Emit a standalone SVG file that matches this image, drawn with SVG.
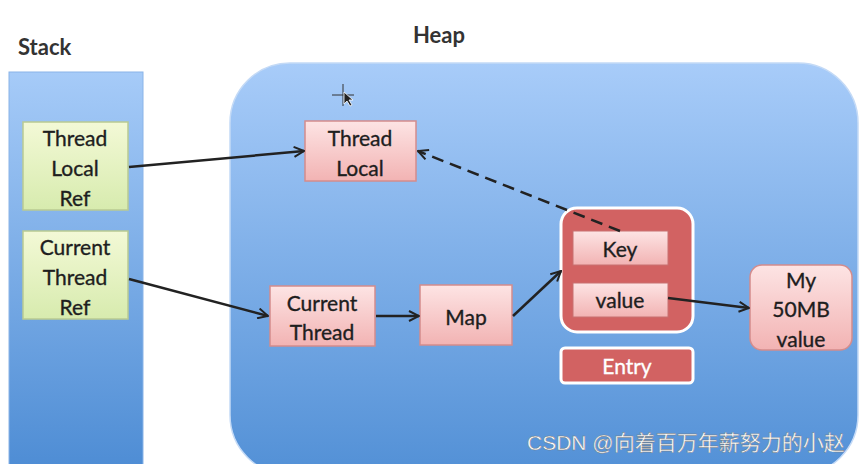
<svg xmlns="http://www.w3.org/2000/svg" width="859" height="464" viewBox="0 0 859 464">
<defs>
<linearGradient id="gBlue" x1="0" y1="0" x2="0" y2="1">
<stop offset="0" stop-color="#a6cbf8"/><stop offset="1" stop-color="#4d8cd4"/>
</linearGradient>
<linearGradient id="gBlue2" x1="0" y1="0" x2="0" y2="1">
<stop offset="0" stop-color="#a8ccf9"/><stop offset="1" stop-color="#5290d6"/>
</linearGradient>
<linearGradient id="gGreen" x1="0" y1="0" x2="0" y2="1">
<stop offset="0" stop-color="#f3f9d6"/><stop offset="1" stop-color="#d7ebae"/>
</linearGradient>
<linearGradient id="gPink" x1="0" y1="0" x2="0" y2="1">
<stop offset="0" stop-color="#fde4e4"/><stop offset="1" stop-color="#f2b3b3"/>
</linearGradient>
<marker id="ah" viewBox="0 0 12 12" refX="11" refY="6" markerWidth="12" markerHeight="12" markerUnits="userSpaceOnUse" orient="auto">
<path d="M1,1 L11,6 L1,11" fill="none" stroke="#222" stroke-width="2"/>
</marker>
</defs>
<style>
.t{font-family:Lato,"Open Sans","Noto Sans",sans-serif;font-size:21px;fill:#1e1e1e;stroke:#1e1e1e;stroke-width:0.35;text-anchor:middle}
.lbl{font-family:Lato,"Open Sans",sans-serif;font-size:22px;font-weight:bold;fill:#333}
.green{fill:url(#gGreen);stroke:#b9ca92;stroke-width:1.5}
.pink{fill:url(#gPink);stroke:#d48c8c;stroke-width:1.5}
.inner{fill:url(#gPink);stroke:#c87070;stroke-width:1}
.c{fill:none;stroke:#222;stroke-width:2.5;marker-end:url(#ah)}
</style>
<rect width="859" height="464" fill="#ffffff"/>
<g id="stack">
<rect x="9" y="72" width="134" height="400" fill="url(#gBlue)" stroke="#8ab4e8" stroke-width="1"/>
<text class="lbl" x="18" y="55">Stack</text>
</g>
<g id="heap">
<rect x="230" y="63" width="628" height="412" rx="60" fill="url(#gBlue2)" stroke="#c4daf6" stroke-width="1.5"/>
<text class="lbl" x="413" y="43">Heap</text>
</g>
<g id="cursor">
<path d="M343,84 v22 M332,95 h22" stroke="#333" stroke-width="1" fill="none"/>
<path d="M344,92 L344,104 L347,101 L350,106 L352,105 L349,100 L353,100 Z" fill="#222" stroke="#fff" stroke-width="0.8"/>
</g>
<g id="threadLocalRef">
<rect class="green" x="23" y="122" width="105" height="88"/>
<text class="t" x="75" y="146">Thread</text>
<text class="t" x="75" y="176">Local</text>
<text class="t" x="75" y="206">Ref</text>
</g>
<g id="currentThreadRef">
<rect class="green" x="23" y="231" width="105" height="88"/>
<text class="t" x="75" y="255">Current</text>
<text class="t" x="75" y="285">Thread</text>
<text class="t" x="75" y="315">Ref</text>
</g>
<g id="threadLocal">
<rect class="pink" x="305" y="121" width="111" height="60"/>
<text class="t" x="360" y="146">Thread</text>
<text class="t" x="360" y="176">Local</text>
</g>
<g id="currentThread">
<rect class="pink" x="270" y="286" width="105" height="60"/>
<text class="t" x="322" y="311">Current</text>
<text class="t" x="322" y="340">Thread</text>
</g>
<g id="map">
<rect class="pink" x="420" y="285" width="92" height="60"/>
<text class="t" x="466" y="325">Map</text>
</g>
<g id="entry">
<rect x="561" y="208" width="132" height="124" rx="16" fill="#d26262" stroke="#ffffff" stroke-width="3"/>
<rect class="inner" x="573" y="231" width="95" height="34"/>
<text class="t" x="620" y="257">Key</text>
<rect class="inner" x="573" y="283" width="95" height="34"/>
<text class="t" x="620" y="308">value</text>
</g>
<g id="entryLabel">
<rect x="561" y="348" width="132" height="35" rx="4" fill="#d26262" stroke="#ffffff" stroke-width="3"/>
<text class="t" x="627" y="374" style="fill:#ffffff;stroke:#ffffff">Entry</text>
</g>
<g id="value50">
<rect class="pink" x="750" y="265" width="102" height="85" rx="12"/>
<text class="t" x="801" y="288">My</text>
<text class="t" x="801" y="317">50MB</text>
<text class="t" x="801" y="347">value</text>
</g>
<g id="connectors">
<line class="c" x1="129" y1="167" x2="304" y2="151"/>
<line class="c" x1="129" y1="279" x2="268" y2="316"/>
<line class="c" x1="376" y1="316" x2="419" y2="316"/>
<line class="c" x1="513" y1="316" x2="561" y2="271"/>
<line class="c" x1="668" y1="298" x2="749" y2="308"/>
<line class="c" x1="620" y1="231" x2="418" y2="151" stroke-dasharray="12,7"/>
</g>
<text x="527" y="450" style="font-family:'Liberation Sans','Noto Sans CJK SC',sans-serif;font-size:21px;fill:#ffffff;stroke:#777;stroke-width:0.4">CSDN @向着百万年薪努力的小赵</text>
</svg>
